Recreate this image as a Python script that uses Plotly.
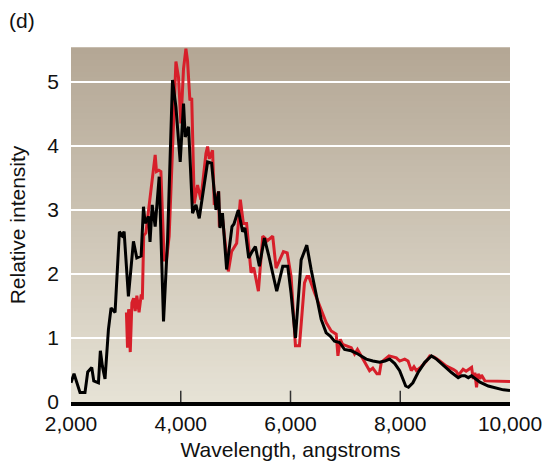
import plotly.graph_objects as go

# Black spectrum: wavelength (angstroms) and relative intensity
black_wl = [2000, 2055, 2164, 2255, 2305, 2378, 2415, 2500, 2535, 2572, 2620, 2682,
            2730, 2803, 2882, 2930, 2968, 3046, 3138, 3199, 3278, 3321, 3351, 3412,
            3440, 3480, 3534, 3607, 3686, 3760, 3850, 3912, 3990, 4051, 4082, 4142,
            4215, 4277, 4337, 4489, 4562, 4642, 4690, 4715, 4760, 4836, 4934, 4970,
            5049, 5128, 5170, 5238, 5300, 5360, 5433, 5524, 5600, 5749, 5859, 5950,
            6010, 6090, 6194, 6297, 6376, 6468, 6559, 6650, 6724, 6802, 6894, 6985,
            7107, 7228, 7380, 7502, 7624, 7720, 7807, 7900, 7989, 8099, 8150, 8230,
            8325, 8447, 8569, 8660, 8800, 8934, 9056, 9120, 9178, 9240, 9300, 9452,
            9604, 9757, 9878, 10000]
black_int = [0.30, 0.44, 0.15, 0.15, 0.47, 0.54, 0.33, 0.30, 0.80, 0.56, 0.36, 1.13,
             1.47, 1.40, 2.66, 2.60, 2.66, 1.65, 2.51, 2.25, 2.28, 3.05, 2.79, 2.90,
             2.50, 3.08, 2.74, 3.52, 1.26, 2.53, 5.03, 4.61, 3.75, 4.66, 4.14, 4.30,
             2.95, 3.08, 2.87, 3.75, 3.73, 3.00, 3.29, 2.72, 2.95, 2.07, 2.74, 2.78,
             3.00, 2.66, 2.72, 2.25, 2.35, 2.43, 2.12, 2.56, 2.30, 1.73, 2.12, 2.12,
             1.70, 1.00, 2.22, 2.45, 2.07, 1.65, 1.29, 1.08, 1.03, 0.95, 0.93, 0.82,
             0.80, 0.75, 0.67, 0.64, 0.62, 0.64, 0.67, 0.60, 0.49, 0.25, 0.23, 0.30,
             0.46, 0.62, 0.72, 0.67, 0.56, 0.46, 0.38, 0.41, 0.41, 0.38, 0.41, 0.31,
             0.25, 0.21, 0.19, 0.18]

# Red spectrum: wavelength (angstroms) and relative intensity
red_wl = [3010, 3030, 3050, 3080, 3110, 3140, 3170, 3200, 3240, 3280, 3300, 3325,
          3364, 3424, 3485, 3534, 3558, 3600, 3638, 3698, 3740, 3789, 3912, 3959,
          4003, 4050, 4094, 4124, 4167, 4200, 4246, 4306, 4367, 4459, 4489, 4520,
          4580, 4611, 4690, 4703, 4750, 4790, 4867, 4927, 5019, 5086, 5141, 5200,
          5281, 5330, 5415, 5494, 5580, 5676, 5737, 5871, 5940, 6011, 6090, 6163,
          6255, 6300, 6333, 6437, 6529, 6650, 6742, 6833, 6864, 6907, 6950, 7016,
          7107, 7168, 7220, 7320, 7441, 7500, 7575, 7620, 7655, 7795, 7929, 7989,
          8081, 8142, 8202, 8250, 8294, 8380, 8477, 8538, 8620, 8721, 8842, 8964,
          9020, 9060, 9145, 9200, 9300, 9330, 9360, 9390, 9420, 9450, 9480, 9542,
          9633, 9817, 10000]
red_int = [1.40, 0.85, 1.45, 0.78, 1.55, 1.62, 1.42, 1.66, 1.40, 1.68, 1.60, 2.60,
           2.64, 3.10, 3.47, 3.86, 3.60, 3.62, 3.60, 2.22, 2.22, 2.59, 5.32, 5.07,
           4.35, 5.20, 5.52, 5.33, 4.71, 4.75, 3.10, 3.39, 3.16, 3.88, 3.99, 3.80,
           3.93, 3.08, 3.29, 2.74, 2.95, 2.60, 2.04, 2.35, 2.48, 3.16, 2.79, 2.79,
           2.02, 2.10, 1.73, 2.59, 2.52, 2.59, 2.09, 2.35, 2.33, 1.96, 0.88, 0.88,
           1.86, 1.96, 1.96, 1.71, 1.50, 1.24, 1.11, 1.06, 0.72, 0.98, 0.90, 0.88,
           0.85, 0.75, 0.82, 0.67, 0.49, 0.53, 0.44, 0.44, 0.62, 0.72, 0.69, 0.64,
           0.67, 0.64, 0.49, 0.55, 0.49, 0.55, 0.64, 0.72, 0.70, 0.64, 0.56, 0.51,
           0.48, 0.42, 0.51, 0.48, 0.54, 0.36, 0.46, 0.23, 0.44, 0.36, 0.42, 0.33,
           0.33, 0.32, 0.32]

x_ticks = [2000, 4000, 6000, 8000, 10000]
y_ticks = [0, 1, 2, 3, 4, 5]
inner_ticks = [4000, 6000, 8000]

FONT = "Arial, Liberation Sans, Helvetica, sans-serif"
FSIZE = 21

fig = go.Figure()
fig.add_trace(go.Scatter(x=red_wl, y=red_int, mode="lines",
                         line=dict(color="#d71f2a", width=3), showlegend=False))
fig.add_trace(go.Scatter(x=black_wl, y=black_int, mode="lines",
                         line=dict(color="#000000", width=3), showlegend=False))

# Vertical tan gradient behind the plot area, built from thin strips
top_rgb = (180, 167, 149)
bot_rgb = (230, 226, 213)
n = 60
shapes = []
for i in range(n):
    t = i / (n - 1)
    r = round(bot_rgb[0] + (top_rgb[0] - bot_rgb[0]) * t)
    g = round(bot_rgb[1] + (top_rgb[1] - bot_rgb[1]) * t)
    b = round(bot_rgb[2] + (top_rgb[2] - bot_rgb[2]) * t)
    shapes.append(dict(type="rect", xref="x domain", yref="y domain",
                       x0=0, x1=1, y0=i / n, y1=(i + 1) / n + 0.002,
                       fillcolor=f"rgb({r},{g},{b})", line=dict(width=0),
                       layer="below"))
# Short upward tick marks on the wavelength axis
for xv in inner_ticks:
    shapes.append(dict(type="line", xref="x", yref="y domain",
                       x0=xv, x1=xv, y0=0, y1=0.032,
                       line=dict(color="#333333", width=1.5), layer="above"))

fig.update_layout(
    width=545, height=461,
    margin=dict(l=71, r=35, t=48, b=59),
    paper_bgcolor="white",
    plot_bgcolor="rgba(0,0,0,0)",
    font=dict(family=FONT, size=FSIZE, color="#111111"),
    shapes=shapes,
    title=dict(text="(d)", x=9 / 545, xanchor="left", xref="container",
               y=1 - 21 / 461, yanchor="middle", yref="container",
               font=dict(family=FONT, size=FSIZE, color="#111111")),
    xaxis=dict(range=[2000, 10000], tickvals=x_ticks, tickformat=",d",
               showgrid=False, zeroline=False, showline=True,
               linecolor="black", linewidth=4, ticks="",
               ticklabelstandoff=0, automargin=False,
               title=dict(text="Wavelength, angstroms", standoff=11,
                          font=dict(family=FONT, size=FSIZE))),
    yaxis=dict(range=[0, 5.53], tickvals=y_ticks, showgrid=True,
               gridcolor="white", gridwidth=2, zeroline=False,
               showline=False, ticks="", ticklabelstandoff=11,
               automargin=False,
               title=dict(text="Relative intensity", standoff=15,
                          font=dict(family=FONT, size=FSIZE))),
)

fig.write_html("out.html")
